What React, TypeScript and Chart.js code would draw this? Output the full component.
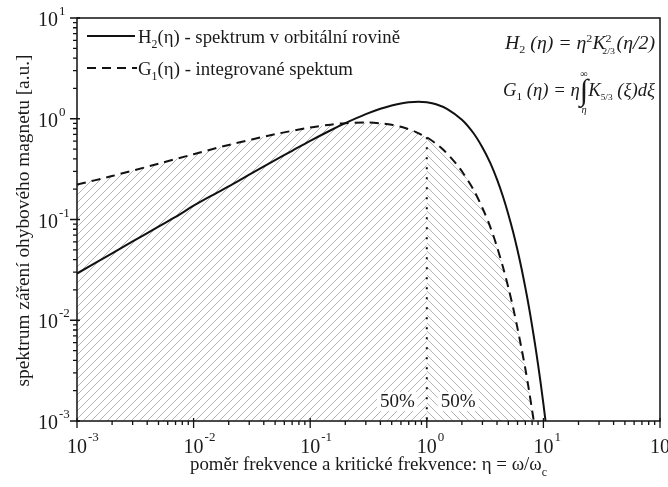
import React, { useEffect, useRef } from "react";
import { Chart, registerables } from "chart.js";

Chart.register(...registerables);

// ---------------- data ----------------
const etaH = [0.001, 0.002, 0.003, 0.005, 0.007, 0.01, 0.015, 0.02, 0.03, 0.05, 0.07, 0.1, 0.15, 0.2, 0.3, 0.4, 0.5, 0.6, 0.7, 0.85, 1.0, 1.2, 1.5, 2.0, 2.5, 3.0, 3.5, 4.0, 4.5, 5.0, 5.5, 6.0, 6.5, 7.0, 7.5, 8.0, 8.5, 9.0, 9.5, 10.0, 10.5];
const H2 = [0.0291, 0.0461, 0.0605, 0.0851, 0.106, 0.137, 0.178, 0.213, 0.279, 0.388, 0.481, 0.603, 0.769, 0.904, 1.11, 1.256, 1.356, 1.42, 1.458, 1.476, 1.455, 1.392, 1.247, 0.978, 0.726, 0.519, 0.365, 0.25, 0.169, 0.113, 0.0752, 0.0495, 0.0324, 0.0211, 0.0137, 0.0088, 0.00566, 0.00363, 0.00232, 0.00148, 0.00094];

const etaG = [0.001, 0.002, 0.005, 0.01, 0.02, 0.05, 0.1, 0.15, 0.2, 0.3, 0.4, 0.5, 0.6, 0.7, 0.8, 0.9, 1.0, 1.2, 1.4, 1.6, 1.8, 2.0, 2.5, 3.0, 3.5, 4.0, 4.5, 5.0, 5.5, 6.0, 6.5, 7.0, 7.5, 8.0, 8.3];
const G1 = [0.222, 0.27, 0.358, 0.445, 0.55, 0.702, 0.818, 0.874, 0.904, 0.918, 0.901, 0.872, 0.832, 0.788, 0.742, 0.694, 0.655, 0.566, 0.486, 0.414, 0.354, 0.301, 0.2, 0.13, 0.0845, 0.0536, 0.0337, 0.0212, 0.0133, 0.0083, 0.0052, 0.0033, 0.00206, 0.00128, 0.00097];

const splitEta = 1;
const dividerX = [1, 1];
const dividerY = [0.655, 0.001];

const xMin = 1e-3;
const xMax = 1e2;
const yMin = 1e-3;
const yMax = 1e1;
const xTickExps = [-3, -2, -1, 0, 1, 2];
const yTickExps = [-3, -2, -1, 0, 1];

const legendH = "(η) - spektrum v orbitální rovině";
const legendG = "(η) - integrované spektum";
const xTitle = "poměr frekvence a kritické frekvence: η = ω/ω";
const yTitle = "spektrum záření ohybového magnetu [a.u.]";
const halfLabel = "50%";

const FAM = "'Liberation Serif', 'DejaVu Serif', serif";
const TXT = "#1a1a1a";

type Run = { t: string; s: number; dy?: number; it?: boolean; over?: boolean };

function drawRuns(ctx: CanvasRenderingContext2D, runs: Run[], x: number, y: number, align: "left" | "center" | "right", fit?: number) {
  const widths: number[] = [];
  let total = 0;
  runs.forEach((r) => {
    ctx.font = `${r.it ? "italic " : ""}${r.s}px ${FAM}`;
    const w = ctx.measureText(r.t).width;
    widths.push(w);
    if (!r.over) total += w;
  });
  const sx = fit ? fit / total : 1;
  const tw = total * sx;
  let x0 = x;
  if (align === "center") x0 = x - tw / 2;
  if (align === "right") x0 = x - tw;
  ctx.save();
  ctx.translate(x0, y);
  ctx.scale(sx, 1);
  ctx.textAlign = "left";
  ctx.textBaseline = "alphabetic";
  ctx.fillStyle = TXT;
  let cx = 0;
  let prevX = 0;
  let prevW = 0;
  runs.forEach((r, i) => {
    ctx.font = `${r.it ? "italic " : ""}${r.s}px ${FAM}`;
    const w = widths[i];
    if (r.over) {
      ctx.fillText(r.t, prevX + (prevW - w) / 2, r.dy || 0);
    } else {
      ctx.fillText(r.t, cx, r.dy || 0);
      prevX = cx;
      prevW = w;
      cx += w;
    }
  });
  ctx.restore();
}

function makeHatch(dir: 1 | -1): CanvasPattern | string {
  const s = 8;
  const c = document.createElement("canvas");
  c.width = s;
  c.height = s;
  const g = c.getContext("2d");
  if (!g) return "rgba(0,0,0,0.1)";
  g.strokeStyle = "#a6a6a6";
  g.lineWidth = 0.85;
  g.beginPath();
  if (dir === 1) {
    g.moveTo(-1, s + 1);
    g.lineTo(s + 1, -1);
    g.moveTo(-1, 1);
    g.lineTo(1, -1);
    g.moveTo(s - 1, s + 1);
    g.lineTo(s + 1, s - 1);
  } else {
    g.moveTo(-1, -1);
    g.lineTo(s + 1, s + 1);
    g.moveTo(s - 1, -1);
    g.lineTo(s + 1, 1);
    g.moveTo(-1, s - 1);
    g.lineTo(1, s + 1);
  }
  g.stroke();
  const p = g.createPattern(c, "repeat");
  return p || "rgba(0,0,0,0.1)";
}

const decorPlugin = {
  id: "decor",
  afterDatasetsDraw(chart: any) {
    const ctx: CanvasRenderingContext2D = chart.ctx;
    const xs = chart.scales.x;
    const a = chart.chartArea;
    // 50% labels with white boxes
    const p1 = xs.getPixelForValue(splitEta);
    ctx.save();
    ctx.font = `19px ${FAM}`;
    const w = ctx.measureText(halfLabel).width;
    const by = a.bottom - 14;
    ctx.fillStyle = "#ffffff";
    ctx.fillRect(p1 - 12 - w - 3, by - 15, w + 6, 19);
    ctx.fillRect(p1 + 14 - 3, by - 15, w + 6, 19);
    ctx.fillStyle = TXT;
    ctx.textBaseline = "alphabetic";
    ctx.textAlign = "right";
    ctx.fillText(halfLabel, p1 - 12, by);
    ctx.textAlign = "left";
    ctx.fillText(halfLabel, p1 + 14, by);
    ctx.restore();
  },
  afterDraw(chart: any) {
    const ctx: CanvasRenderingContext2D = chart.ctx;
    const xs = chart.scales.x;
    const ys = chart.scales.y;
    const a = chart.chartArea;
    ctx.save();
    // frame
    ctx.strokeStyle = "#111";
    ctx.lineWidth = 1.5;
    ctx.strokeRect(a.left, a.top, a.right - a.left, a.bottom - a.top);
    // ticks
    ctx.lineWidth = 1.3;
    ctx.beginPath();
    for (let e = xTickExps[0]; e <= xTickExps[xTickExps.length - 1]; e++) {
      const px = xs.getPixelForValue(Math.pow(10, e));
      ctx.moveTo(px, a.bottom - 3);
      ctx.lineTo(px, a.bottom + 7);
      if (e < xTickExps[xTickExps.length - 1]) {
        for (let k = 2; k <= 9; k++) {
          const mx = xs.getPixelForValue(k * Math.pow(10, e));
          ctx.moveTo(mx, a.bottom);
          ctx.lineTo(mx, a.bottom + 4);
        }
      }
    }
    for (let e = yTickExps[0]; e <= yTickExps[yTickExps.length - 1]; e++) {
      const py = ys.getPixelForValue(Math.pow(10, e));
      ctx.moveTo(a.left + 3, py);
      ctx.lineTo(a.left - 7, py);
      if (e < yTickExps[yTickExps.length - 1]) {
        for (let k = 2; k <= 9; k++) {
          const my = ys.getPixelForValue(k * Math.pow(10, e));
          ctx.moveTo(a.left, my);
          ctx.lineTo(a.left - 4, my);
        }
      }
    }
    ctx.stroke();

    // tick labels
    ctx.fillStyle = TXT;
    xTickExps.forEach((e) => {
      const px = xs.getPixelForValue(Math.pow(10, e));
      ctx.font = `20px ${FAM}`;
      const w10 = ctx.measureText("10").width;
      ctx.textAlign = "left";
      ctx.fillText("10", px - w10 / 2, a.bottom + 32);
      ctx.font = `13px ${FAM}`;
      ctx.fillText(String(e), px + w10 / 2 + 1, a.bottom + 20);
    });
    yTickExps.forEach((e) => {
      const py = ys.getPixelForValue(Math.pow(10, e));
      ctx.font = `20px ${FAM}`;
      ctx.textAlign = "right";
      ctx.fillText("10", a.left - 19, py + 8);
      ctx.font = `13px ${FAM}`;
      ctx.textAlign = "left";
      ctx.fillText(String(e), a.left - 18, py - 3);
    });

    // legend
    ctx.strokeStyle = "#111";
    ctx.lineWidth = 2;
    ctx.beginPath();
    ctx.moveTo(a.left + 10, a.top + 18);
    ctx.lineTo(a.left + 58, a.top + 18);
    ctx.stroke();
    ctx.setLineDash([9, 6]);
    ctx.beginPath();
    ctx.moveTo(a.left + 10, a.top + 50);
    ctx.lineTo(a.left + 60, a.top + 50);
    ctx.stroke();
    ctx.setLineDash([]);
    drawRuns(ctx, [{ t: "H", s: 19 }, { t: "2", s: 12, dy: 5 }, { t: legendH, s: 19 }], a.left + 61, a.top + 25, "left", 262);
    drawRuns(ctx, [{ t: "G", s: 19 }, { t: "1", s: 12, dy: 5 }, { t: legendG, s: 19 }], a.left + 61, a.top + 57, "left", 215);

    // formulas
    drawRuns(
      ctx,
      [
        { t: "H", s: 18, it: true },
        { t: "2", s: 11, dy: 4 },
        { t: " (η) = η", s: 18, it: true },
        { t: "2", s: 11, dy: -7 },
        { t: "K", s: 18, it: true },
        { t: "2", s: 11, dy: -7 },
        { t: "2/3", s: 9, dy: 5, over: true },
        { t: " (η/2)", s: 18, it: true },
      ],
      a.right - 5,
      a.top + 31,
      "right",
      150
    );
    drawRuns(
      ctx,
      [
        { t: "G", s: 18, it: true },
        { t: "1", s: 11, dy: 4 },
        { t: " (η) = η", s: 18, it: true },
        { t: "∫", s: 30, dy: 4 },
        { t: "∞", s: 10, dy: -19, over: true },
        { t: "η", s: 10, dy: 17, it: true, over: true },
        { t: "K", s: 18, it: true },
        { t: "5/3", s: 9, dy: 4 },
        { t: " (ξ)dξ", s: 18, it: true },
      ],
      a.right - 5,
      a.top + 78,
      "right",
      152
    );

    // axis titles
    drawRuns(ctx, [{ t: xTitle, s: 19 }, { t: "c", s: 12, dy: 6 }], (a.left + a.right) / 2, a.bottom + 49, "center", 357);
    ctx.save();
    ctx.translate(29, (a.top + a.bottom) / 2 + 1);
    ctx.rotate(-Math.PI / 2);
    drawRuns(ctx, [{ t: yTitle, s: 19 }], 0, 0, "center", 332);
    ctx.restore();
    ctx.restore();
  },
};

export default function App() {
  const ref = useRef<HTMLCanvasElement | null>(null);
  useEffect(() => {
    const canvas = ref.current;
    if (!canvas) return;
    const leftPts = etaG.map((x, i) => ({ x, y: G1[i] })).filter((p) => p.x <= splitEta);
    const rightPts = etaG.map((x, i) => ({ x, y: G1[i] })).filter((p) => p.x >= splitEta);
    const chart = new Chart(canvas, {
      type: "line",
      data: {
        datasets: [
          {
            label: "H2",
            data: etaH.map((x, i) => ({ x, y: H2[i] })),
            borderColor: "#111",
            borderWidth: 2,
            pointRadius: 0,
            fill: false,
            tension: 0.3,
            order: 0,
          },
          {
            label: "G1",
            data: etaG.map((x, i) => ({ x, y: G1[i] })),
            borderColor: "#111",
            borderWidth: 2,
            borderDash: [9, 6],
            pointRadius: 0,
            fill: false,
            tension: 0.3,
            order: 1,
          },
          {
            label: "divider",
            data: dividerX.map((x, i) => ({ x, y: dividerY[i] })),
            borderColor: "#111",
            borderWidth: 2,
            borderDash: [2, 8],
            pointRadius: 0,
            fill: false,
            order: 2,
          },
          {
            label: "hatchL",
            data: leftPts,
            borderWidth: 0,
            borderColor: "rgba(0,0,0,0)",
            backgroundColor: makeHatch(1) as any,
            pointRadius: 0,
            fill: "start",
            tension: 0.3,
            order: 3,
          },
          {
            label: "hatchR",
            data: rightPts,
            borderWidth: 0,
            borderColor: "rgba(0,0,0,0)",
            backgroundColor: makeHatch(-1) as any,
            pointRadius: 0,
            fill: "start",
            tension: 0.3,
            order: 4,
          },
        ],
      },
      options: {
        animation: false,
        responsive: false,
        devicePixelRatio: 1,
        layout: { padding: { left: 77, right: 8, top: 18, bottom: 66 } },
        plugins: { legend: { display: false }, tooltip: { enabled: false }, title: { display: false } },
        scales: {
          x: { type: "logarithmic", min: xMin, max: xMax, display: false },
          y: { type: "logarithmic", min: yMin, max: yMax, display: false },
        },
      },
      plugins: [decorPlugin],
    });
    return () => chart.destroy();
  }, []);
  return (
    <div style={{ position: "absolute", left: 0, top: 0, width: 668, height: 487, background: "#fff" }}>
      <canvas ref={ref} width={668} height={487} style={{ display: "block" }} />
    </div>
  );
}
